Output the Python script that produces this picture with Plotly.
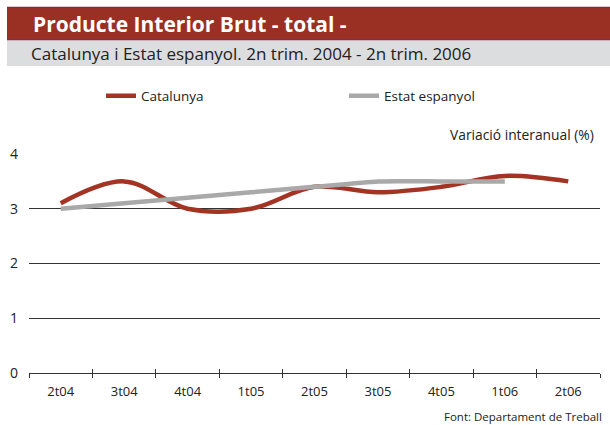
import plotly.graph_objects as go

categories = ["2t04", "3t04", "4t04", "1t05", "2t05", "3t05", "4t05", "1t06", "2t06"]
catalunya = [3.1, 3.5, 3.0, 3.0, 3.4, 3.3, 3.4, 3.6, 3.5]
estat = [3.0, 3.1, 3.2, 3.3, 3.4, 3.5, 3.5, 3.5, None]
y_ticks = [0, 1, 2, 3, 4]

W, H = 610, 425
L, R, T, B = 29, 10, 154, 52
pw = W - L - R
ph = H - T - B

def px(x):
    return (x - L) / pw

def py(y):
    return (H - B - y) / ph

FONT = "'Open Sans', sans-serif"
RED = "#a33322"
GREY = "#a9a9a9"
TXT = "#222222"

fig = go.Figure()
fig.add_trace(go.Scatter(x=categories, y=catalunya, name="Catalunya", mode="lines", legend="legend",
                         line=dict(color=RED, width=4.5, shape="spline", smoothing=1.0)))
fig.add_trace(go.Scatter(x=categories, y=estat, name="Estat espanyol", mode="lines", legend="legend2",
                         line=dict(color=GREY, width=4.5, shape="spline", smoothing=0.6)))
# helper invisible trace for the inward ticks axis
fig.add_trace(go.Scatter(x=categories, y=[None]*len(categories), xaxis="x2", showlegend=False,
                         hoverinfo="skip", mode="lines"))

shapes = [
    dict(type="rect", xref="paper", yref="paper", x0=px(7), x1=px(612), y0=py(40), y1=py(7),
         fillcolor="#9a3023", line=dict(width=0), layer="below"),
    dict(type="line", xref="paper", yref="paper", x0=px(7), x1=px(612), y0=py(7.5), y1=py(7.5),
         line=dict(color="#8c2a3c", width=1.5)),
    dict(type="line", xref="paper", yref="paper", x0=px(7), x1=px(612), y0=py(39.5), y1=py(39.5),
         line=dict(color="#8c2a3c", width=1.5)),
    dict(type="rect", xref="paper", yref="paper", x0=px(7), x1=px(612), y0=py(66), y1=py(40),
         fillcolor="#dcdddf", line=dict(width=0), layer="below"),
]

annotations = [
    dict(text="<b>Producte Interior Brut - total -</b>", xref="paper", yref="paper",
         x=px(31), y=py(24), xanchor="left", yanchor="middle", showarrow=False,
         font=dict(family="'Open Sans', sans-serif", size=21, color="white")),
    dict(text="Catalunya i Estat espanyol. 2n trim. 2004 - 2n trim. 2006", xref="paper", yref="paper",
         x=px(29), y=py(53), xanchor="left", yanchor="middle", showarrow=False,
         font=dict(family=FONT, size=17, color=TXT)),
    dict(text="Variació interanual (%)", xref="paper", yref="paper",
         x=px(596), y=py(134), xanchor="right", yanchor="middle", showarrow=False,
         font=dict(family=FONT, size=13.8, color=TXT)),
    dict(text="Font: Departament de Treball", xref="paper", yref="paper",
         x=px(604), y=py(416), xanchor="right", yanchor="middle", showarrow=False,
         font=dict(family=FONT, size=11.5, color=TXT)),
]

leg_common = dict(orientation="h", xanchor="left", yanchor="middle",
                  font=dict(size=13.5, color=TXT, family=FONT), itemwidth=30,
                  bgcolor="rgba(0,0,0,0)", borderwidth=0)

fig.update_layout(
    width=W, height=H,
    margin=dict(l=L, r=R, t=T, b=B, pad=0, autoexpand=False),
    paper_bgcolor="white", plot_bgcolor="white",
    font=dict(family=FONT, size=13, color=TXT),
    showlegend=True,
    legend=dict(x=px(101), y=py(96), **leg_common),
    legend2=dict(x=px(344), y=py(96), **leg_common),
    xaxis=dict(type="category", categoryarray=categories, tickson="boundaries",
               ticks="outside", ticklen=4, tickcolor="#333333", tickwidth=1,
               showline=True, linecolor="#333333", linewidth=1, showgrid=False,
               zeroline=False, range=[-0.5, 8.5], tickfont=dict(size=13, color=TXT),
               ticklabelstandoff=6),
    xaxis2=dict(type="category", categoryarray=categories, tickson="boundaries",
                ticks="inside", ticklen=4, tickcolor="#333333", tickwidth=1,
                showticklabels=False, showline=False, showgrid=False, zeroline=False,
                overlaying="x", side="bottom", range=[-0.5, 8.5], anchor="y"),
    yaxis=dict(range=[0, 4], tickvals=y_ticks, showgrid=True, gridcolor="#333333", gridwidth=1,
               zeroline=False, showline=False, ticks="", tickfont=dict(size=14, color=TXT),
               ticklabelstandoff=10),
    shapes=shapes,
    annotations=annotations,
)

fig.write_html("out.html", config={"displayModeBar": False},
               post_script="document.body.style.margin='0';document.body.style.overflow='hidden';")
